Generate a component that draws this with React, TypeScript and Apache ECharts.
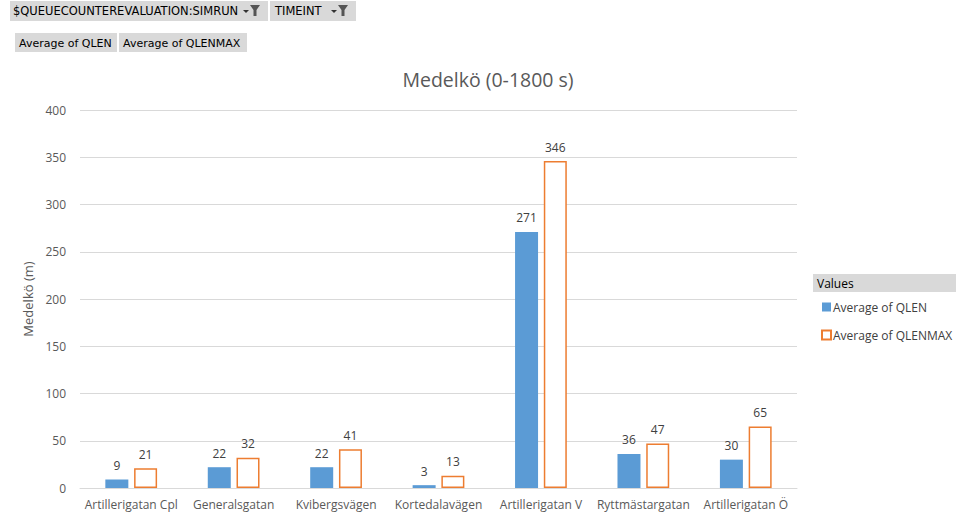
import React, { useEffect, useRef } from "react";
import * as echarts from "echarts";

const categories = [
  "Artillerigatan Cpl",
  "Generalsgatan",
  "Kvibergsvägen",
  "Kortedalavägen",
  "Artillerigatan V",
  "Ryttmästargatan",
  "Artillerigatan Ö",
];
const qlen = [9, 22, 22, 3, 271, 36, 30];
const qlenmax = [21, 32, 41, 13, 346, 47, 65];
const seriesNames = ["Average of QLEN", "Average of QLENMAX"];
const titleText = "Medelkö (0-1800 s)";
const yAxisName = "Medelkö (m)";
const filterButtons = ["$QUEUECOUNTEREVALUATION:SIMRUN", "TIMEINT"];

const FONT = "'Open Sans', 'Noto Sans', sans-serif";
const BTN_FONT = "DejaVu Sans";
const GRAY = "#595959";

function filterIcon(x: number, y: number) {
  return [
    { type: "polygon", shape: { points: [[x, y + 5], [x + 6, y + 5], [x + 3, y + 8]] }, style: { fill: "#333" } },
    { type: "polygon", shape: { points: [[x + 7, y], [x + 17, y], [x + 13.5, y + 5], [x + 13.5, y + 11], [x + 10.5, y + 11], [x + 10.5, y + 5]] }, style: { fill: "#555" } },
  ];
}

function btnText(x: number, y: number, text: string, fontSize = 11) {
  return {
    type: "text",
    x,
    y,
    style: { text, fill: "#000", fontSize, fontFamily: BTN_FONT, verticalAlign: "middle" },
  };
}

export default function App() {
  const ref = useRef<HTMLDivElement>(null);
  useEffect(() => {
    if (!ref.current) return;
    const chart = echarts.init(ref.current, undefined, { renderer: "svg" });
    const labelStyle = { show: true, position: "top", color: "#404040", fontSize: 12, fontFamily: FONT, distance: 8 };
    chart.setOption({
      animation: false,
      backgroundColor: "#ffffff",
      grid: { left: 80, right: 159, top: 110, bottom: 28, containLabel: false },
      legend: {
        orient: "vertical",
        left: 816,
        top: 296,
        itemWidth: 9,
        itemHeight: 9,
        itemGap: 16,
        textStyle: { color: "#404040", fontSize: 12, fontFamily: FONT, padding: [0, 0, 0, -3] },
        data: seriesNames.map((n) => ({ name: n, icon: "rect" })),
      },
      xAxis: {
        type: "category",
        data: categories,
        axisLine: { lineStyle: { color: "#d9d9d9" } },
        axisTick: { show: false },
        axisLabel: { color: GRAY, fontSize: 12, fontFamily: FONT, margin: 10, interval: 0 },
      },
      yAxis: {
        type: "value",
        min: 0,
        max: 400,
        interval: 50,
        name: yAxisName,
        nameLocation: "middle",
        nameGap: 42,
        nameTextStyle: { color: GRAY, fontSize: 13, fontFamily: FONT },
        axisLine: { show: false },
        axisTick: { show: false },
        axisLabel: { color: GRAY, fontSize: 12, fontFamily: FONT, margin: 14 },
        splitLine: { lineStyle: { color: "#d9d9d9" } },
      },
      series: [
        {
          name: seriesNames[0],
          type: "bar",
          data: qlen,
          barWidth: 23,
          barGap: "25%",
          itemStyle: { color: "#5b9bd5" },
          label: labelStyle,
        },
        {
          name: seriesNames[1],
          type: "bar",
          data: qlenmax,
          barWidth: 23,
          itemStyle: { color: "#ffffff", borderColor: "#ed7d31", borderWidth: 1.5 },
          label: labelStyle,
        },
      ],
      graphic: [
        { type: "text", x: 488, y: 79, style: { text: titleText, fill: GRAY, fontSize: 19.5, fontFamily: FONT, align: "center", verticalAlign: "middle" } },
        { type: "rect", shape: { x: 10, y: 1, width: 258, height: 20 }, style: { fill: "#d9d9d9" } },
        btnText(13, 11, filterButtons[0], 11.5),
        ...filterIcon(243, 5),
        { type: "rect", shape: { x: 270, y: 1, width: 86, height: 20 }, style: { fill: "#d9d9d9" } },
        btnText(275, 11, filterButtons[1], 11.5),
        ...filterIcon(331, 5),
        { type: "rect", shape: { x: 15, y: 33, width: 102, height: 19 }, style: { fill: "#d9d9d9" } },
        btnText(19, 43, seriesNames[0]),
        { type: "rect", shape: { x: 119, y: 33, width: 128, height: 19 }, style: { fill: "#d9d9d9" } },
        btnText(123, 43, seriesNames[1]),
        { type: "rect", shape: { x: 813, y: 274, width: 143, height: 18 }, style: { fill: "#d9d9d9" } },
        { type: "text", x: 817, y: 283, style: { text: "Values", fill: "#000", fontSize: 12, fontFamily: FONT, verticalAlign: "middle" } },
      ],
    });
    return () => chart.dispose();
  }, []);
  return <div ref={ref} style={{ width: 956, height: 516, position: "absolute", left: 0, top: 0 }} />;
}
